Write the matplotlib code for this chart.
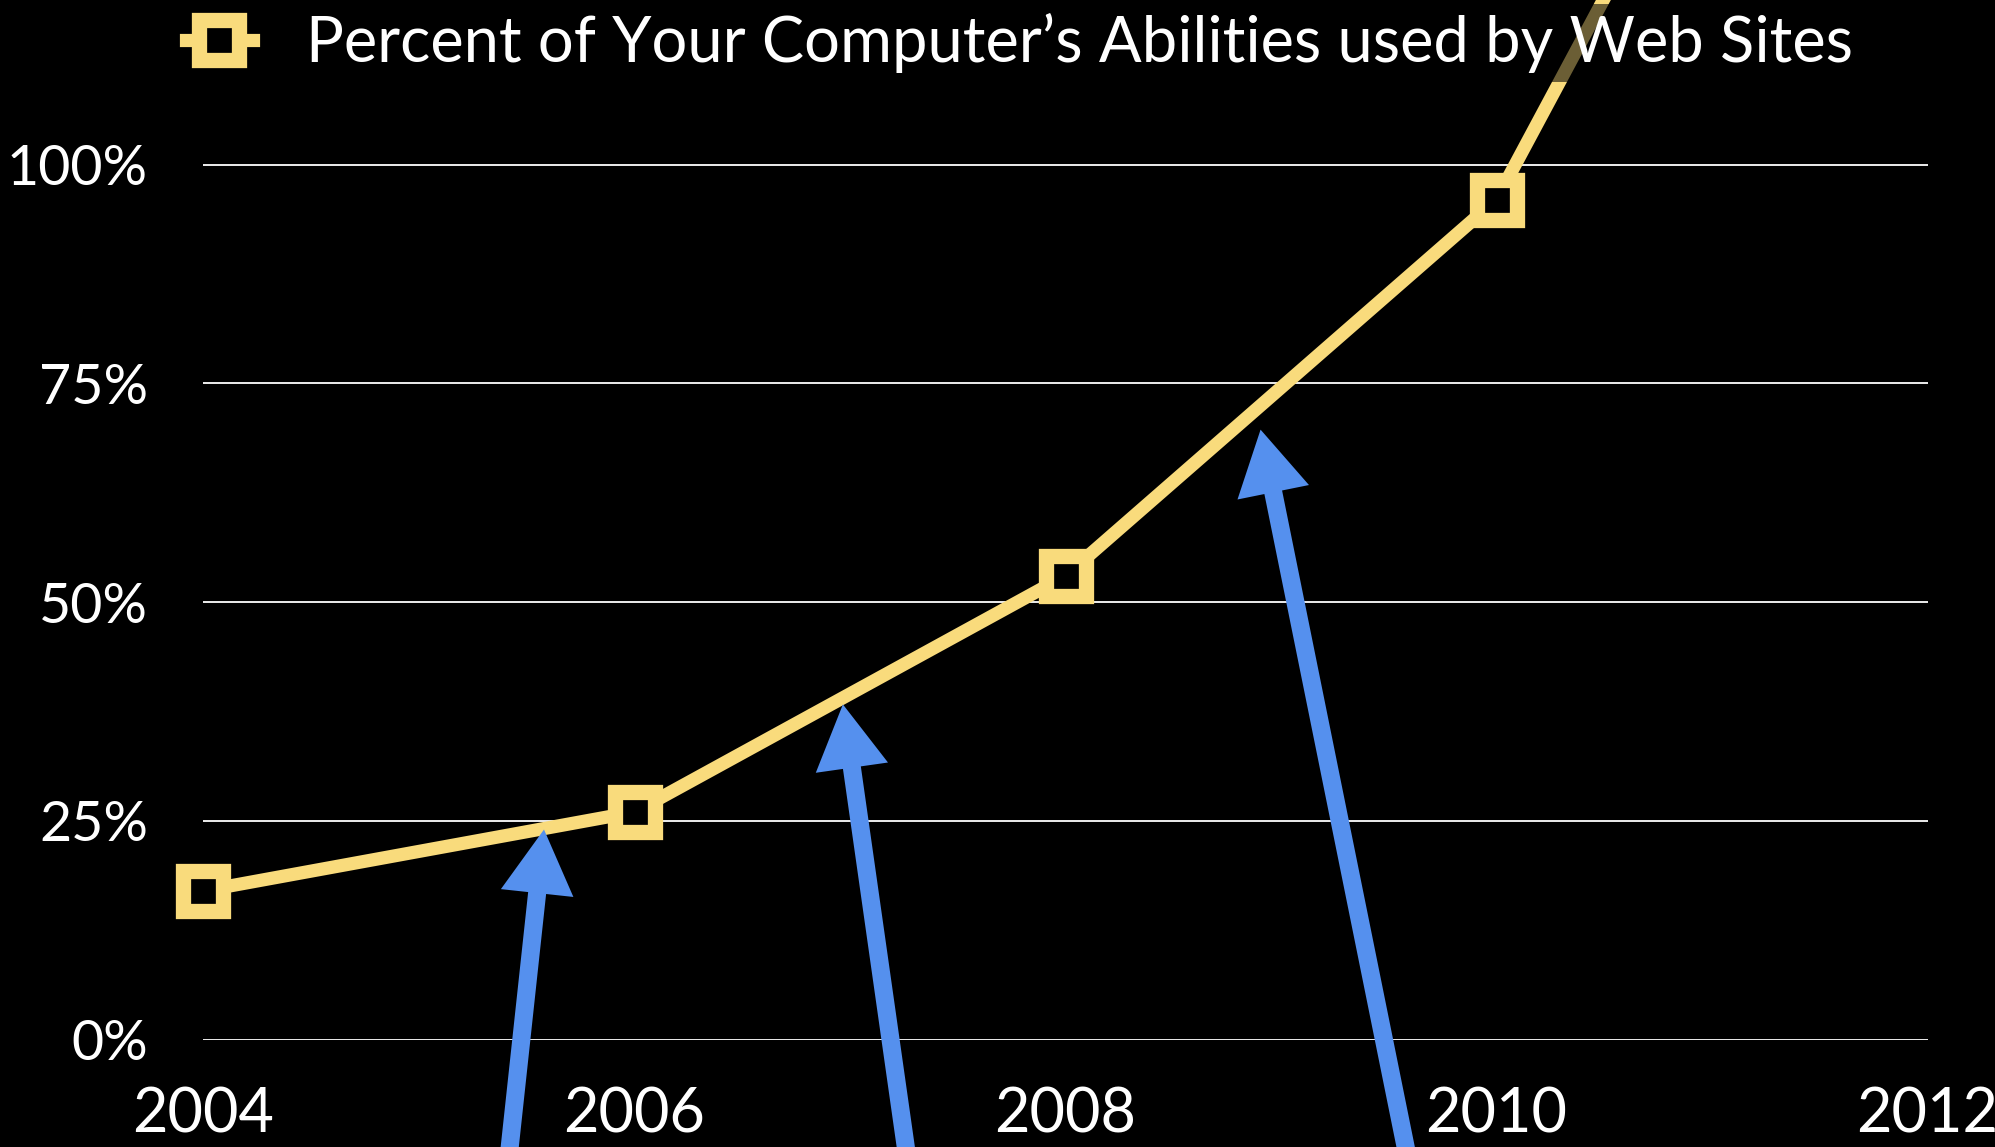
import matplotlib
matplotlib.use('Agg')
import matplotlib.pyplot as plt

# data
years = [2004, 2006, 2008, 2010, 2012]
percent_used = [17, 26, 53, 96, 188]
y_ticks = [0, 25, 50, 75, 100]
y_tick_labels = ['0%', '25%', '50%', '75%', '100%']
x_ticks = [2004, 2006, 2008, 2010, 2012]
series_label = 'Percent of Your Computer\u2019s Abilities used by Web Sites'

# arrows: (tip x, tip y) on the line, (tail x, tail y) below the chart
arrow_tips = [(2005.58, 24.0), (2006.967, 38.3), (2008.905, 69.7)]
arrow_tails = [(2005.42, -12.5), (2007.26, -12.5), (2009.58, -12.5)]

yellow = '#F9DB7C'
blue = '#5590EE'

plt.rcParams['font.family'] = ['Lato', 'DejaVu Sans']

fig = plt.figure(figsize=(19.95, 11.47), dpi=100, facecolor='black')
ax = fig.add_axes([0.1020, 0.0937, 0.8642, 0.9063])
ax.set_facecolor('black')

ax.plot(years, percent_used, color=yellow, lw=9.5, marker='s', markersize=28.5,
        markerfacecolor='black', markeredgecolor=yellow, markeredgewidth=11,
        label=series_label, zorder=3, clip_on=False)

for tip, tail in zip(arrow_tips, arrow_tails):
    ax.annotate('', xy=tip, xytext=tail, annotation_clip=False,
                arrowprops=dict(arrowstyle='simple,head_length=4.6,head_width=5.25,tail_width=1.3',
                                mutation_scale=10, color=blue, lw=0,
                                shrinkA=0, shrinkB=0),
                zorder=4)

ax.set_xlim(2004, 2012)
ax.set_ylim(0, 118.8)
ax.set_yticks(y_ticks)
ax.set_yticklabels(y_tick_labels)
ax.set_xticks(x_ticks)
ax.set_xticklabels([str(x) for x in x_ticks])
ax.tick_params(axis='both', length=0, colors='white', labelsize=44)
ax.tick_params(axis='y', pad=40, labelsize=40)
ax.tick_params(axis='x', pad=34)
for s in ax.spines.values():
    s.set_visible(False)
ax.grid(axis='y', color='white', lw=1.3, zorder=1)
ax.set_axisbelow(True)

leg = ax.legend(loc='center left', bbox_to_anchor=(0.0889, 0.9625),
                bbox_transform=fig.transFigure, frameon=True, fontsize=45.5,
                handlelength=1.05, handletextpad=0.84, borderpad=0.14,
                borderaxespad=0, labelcolor='white')
leg.get_frame().set_facecolor('black')
leg.get_frame().set_alpha(0.57)
leg.get_frame().set_edgecolor('none')
leg.get_frame().set_boxstyle('square', pad=0)

fig.savefig('out.png', dpi=100, facecolor='black')
